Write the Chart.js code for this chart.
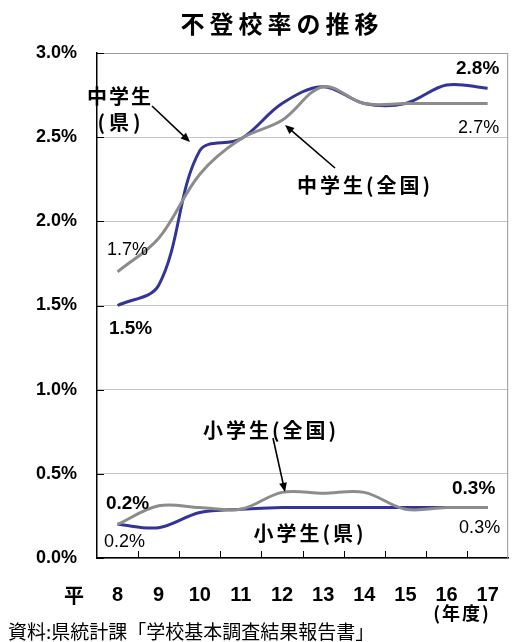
<!DOCTYPE html>
<html>
<head>
<meta charset="utf-8">
<script src="https://cdn.jsdelivr.net/npm/chart.js@4"></script>
<style>
  body { margin: 0; background: #fff; }
  canvas { display: block; }
</style>
</head>
<body>
<canvas id="chart" width="516" height="642"></canvas>
<script>
// 年度 (平成)
const years = ['8', '9', '10', '11', '12', '13', '14', '15', '16', '17'];

// 不登校率 (%)
const midPref  = [1.50, 1.62, 2.42, 2.49, 2.70, 2.80, 2.70, 2.70, 2.81, 2.79]; // 中学生(県)
const midNat   = [1.70, 1.90, 2.28, 2.49, 2.60, 2.80, 2.70, 2.70, 2.70, 2.70]; // 中学生(全国)
const elemPref = [0.20, 0.18, 0.27, 0.29, 0.30, 0.30, 0.30, 0.30, 0.30, 0.30]; // 小学生(県)
const elemNat  = [0.20, 0.31, 0.30, 0.29, 0.39, 0.385, 0.39, 0.29, 0.30, 0.30]; // 小学生(全国)

const yMax = 3.0, yStep = 0.5;

const BLUE = '#333399', GRAY = '#8c8c8c';
const LATIN = "'Liberation Sans', Arial, sans-serif";
const JP = "'Noto Sans CJK JP', sans-serif";

function arrow(ctx, x1, y1, x2, y2) {
    const ang = Math.atan2(y2 - y1, x2 - x1);
    ctx.strokeStyle = '#000';
    ctx.fillStyle = '#000';
    ctx.lineWidth = 1.6;
    ctx.beginPath();
    ctx.moveTo(x1, y1);
    ctx.lineTo(x2 - 6 * Math.cos(ang), y2 - 6 * Math.sin(ang));
    ctx.stroke();
    ctx.beginPath();
    ctx.moveTo(x2, y2);
    ctx.lineTo(x2 - 10 * Math.cos(ang - 0.4), y2 - 10 * Math.sin(ang - 0.4));
    ctx.lineTo(x2 - 10 * Math.cos(ang + 0.4), y2 - 10 * Math.sin(ang + 0.4));
    ctx.closePath();
    ctx.fill();
}

function text(ctx, str, x, y, font, align, spacing) {
    ctx.font = font;
    ctx.fillStyle = '#000';
    ctx.textAlign = align || 'center';
    ctx.textBaseline = 'middle';
    ctx.letterSpacing = (spacing || 0) + 'px';
    ctx.fillText(str, x, y);
    ctx.letterSpacing = '0px';
}

const decorations = {
    id: 'decorations',
    afterDraw(chart) {
        const { ctx, chartArea: a, scales: { x, y } } = chart;
        ctx.save();

        // top / right frame
        ctx.strokeStyle = '#999';
        ctx.lineWidth = 1;
        ctx.beginPath();
        ctx.moveTo(a.left, a.top + 0.5);
        ctx.lineTo(a.right - 0.5, a.top + 0.5);
        ctx.lineTo(a.right - 0.5, a.bottom);
        ctx.stroke();

        // inner tick marks
        ctx.strokeStyle = '#000';
        ctx.beginPath();
        y.ticks.forEach(t => {
            const py = Math.round(y.getPixelForValue(t.value)) + 0.5;
            ctx.moveTo(a.left, py);
            ctx.lineTo(a.left + 7, py);
        });
        for (let i = 1; i < years.length; i++) {
            const px = Math.round((x.getPixelForValue(i - 1) + x.getPixelForValue(i)) / 2) + 0.5;
            ctx.moveTo(px, a.bottom);
            ctx.lineTo(px, a.bottom - 7);
        }
        ctx.stroke();

        // title
        text(ctx, '不登校率の推移', 282, 24, 'bold 24px ' + JP, 'center', 5);

        // axis extras
        text(ctx, '平', 74, 595, 'bold 20px ' + JP);
        text(ctx, '(年度)', 462, 613, 'bold 18px ' + JP, 'center', 2);
        text(ctx, '資料:県統計課「学校基本調査結果報告書」', 8, 632, '19px ' + JP, 'left');

        // value labels at first / last points
        const val = (data, i, dx, dy, bold) => {
            const px = x.getPixelForValue(i) + dx;
            const py = y.getPixelForValue(data[i]) + dy;
            const font = bold ? 'bold 19px ' + LATIN : '18px ' + LATIN;
            text(ctx, data[i].toFixed(1) + '%', px, py, font);
        };
        const last = years.length - 1;
        val(midPref, 0, 13, 23, true);
        val(midNat, 0, 10, -22, false);
        val(midPref, last, -10, -20, true);
        val(midNat, last, -9, 25, false);
        val(elemPref, 0, 10, -21, true);
        val(elemNat, 0, 7, 18, false);
        val(elemPref, last, -14, -19, true);
        val(elemNat, last, -8, 21, false);

        // series notes
        const nf = 'bold 20px ' + JP;
        text(ctx, '中学生', 120, 96, nf, 'center', 2);
        text(ctx, '(県)', 121, 122, nf, 'center', 4);
        arrow(ctx, 152, 106, 190, 142);

        text(ctx, '中学生(全国)', 365, 185, nf, 'center', 3);
        arrow(ctx, 335, 168, 285, 125);

        text(ctx, '小学生(全国)', 271, 430, nf, 'center', 3);
        arrow(ctx, 273, 438, 285, 492);

        text(ctx, '小学生(県)', 310, 533, nf, 'center', 3);

        ctx.restore();
    }
};

const line = (data, color) => ({
    data: data,
    borderColor: color,
    borderWidth: 3,
    pointRadius: 0,
    tension: 0.35,
    fill: false
});

new Chart(document.getElementById('chart'), {
    type: 'line',
    data: {
        labels: years,
        // gray (national) first so it is drawn on top
        datasets: [
            line(midNat, GRAY),
            line(elemNat, GRAY),
            line(midPref, BLUE),
            line(elemPref, BLUE)
        ]
    },
    options: {
        responsive: false,
        animation: false,
        layout: { padding: { top: 53, right: 5, left: 0, bottom: 0 } },
        plugins: {
            legend: { display: false },
            tooltip: { enabled: false }
        },
        scales: {
            x: {
                offset: true,
                grid: { display: false },
                border: { display: true, color: '#000', width: 1.5 },
                ticks: {
                    color: '#000',
                    font: { family: LATIN, size: 20, weight: 'bold' },
                    padding: 17,
                    maxRotation: 0,
                    autoSkip: false
                },
                afterFit: s => { s.height = 84; }
            },
            y: {
                min: 0,
                max: yMax,
                grid: { color: '#c4c4c4', drawTicks: false },
                border: { display: true, color: '#000', width: 1.5 },
                ticks: {
                    stepSize: yStep,
                    color: '#000',
                    font: { family: LATIN, size: 18, weight: 'bold' },
                    padding: 20,
                    callback: v => v.toFixed(1) + '%'
                },
                afterFit: s => { s.height = undefined; s.width = 97; }
            }
        }
    },
    plugins: [decorations]
});
</script>
</body>
</html>
